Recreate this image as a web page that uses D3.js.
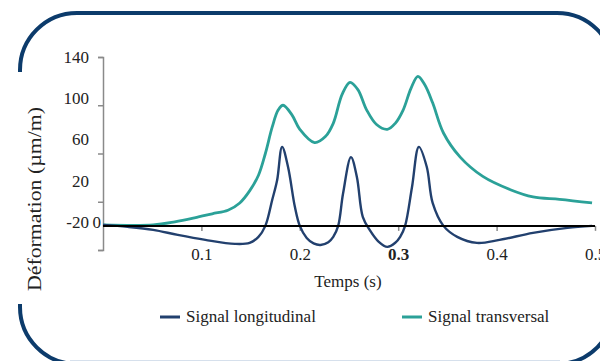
<!DOCTYPE html>
<html lang="fr">
<head>
    <meta charset="UTF-8">
    <title>Déformation - signaux</title>
    <script src="https://d3js.org/d3.v7.min.js"></script>
    <style>
        body { margin: 0; background: #fff; }
        text { font-family: "Liberation Serif", "DejaVu Serif", serif; fill: #222; }
    </style>
</head>
<body>
    <script>
        // temps (s)
        var tLong = [0, 0.025, 0.051, 0.076, 0.104, 0.134, 0.149, 0.158, 0.165, 0.172, 0.177, 0.182, 0.188, 0.195, 0.200,
                     0.207, 0.214, 0.221, 0.229, 0.234, 0.239, 0.244, 0.252, 0.258, 0.264, 0.271, 0.280, 0.289, 0.297, 0.302,
                     0.307, 0.314, 0.321, 0.329, 0.335, 0.346, 0.360, 0.380, 0.403, 0.437, 0.472, 0.497];
        var vLong = [0.8, -0.8, -3.3, -7.5, -11.6, -14.9, -14.1, -9.1, 0, 21.6, 38, 65.5, 49, 15.8, 0,
                     -10, -14.5, -15.8, -13.5, -9.1, 0, 27, 57, 40.6, 7.5, -3.3, -13, -17.4, -14, -9.1,
                     0, 32, 65.5, 49, 19, 0, -9.1, -14.1, -11.6, -5.8, -1.7, 0];

        var tTrans = [0, 0.051, 0.073, 0.093, 0.111, 0.127, 0.139, 0.149, 0.158, 0.165, 0.172, 0.178, 0.183, 0.192, 0.200,
                      0.215, 0.226, 0.234, 0.243, 0.251, 0.259, 0.268, 0.278, 0.289, 0.297, 0.305, 0.313, 0.320,
                      0.327, 0.335, 0.346, 0.363, 0.386, 0.414, 0.437, 0.464, 0.497];
        var vTrans = [0.8, 0.8, 3.3, 6.6, 10, 13, 19, 29, 42, 60, 82, 96, 100, 92, 80,
                      69, 74, 85, 109, 119, 113, 96, 84, 80, 85, 96, 114, 124,
                      117, 102, 77, 57, 41, 30, 24, 22, 19];

        var yTicks = [-20, 20, 60, 100, 140];
        var xTicks = [0.1, 0.2, 0.3, 0.4, 0.5];
        var seriesNames = ["Signal longitudinal", "Signal transversal"];
        var seriesColors = ["#22406e", "#2ba198"];

        var width = 600;
        var height = 361;

        var svg = d3.select("body").append("svg")
            .attr("width", width)
            .attr("height", height)

        // cadre arrondi
        svg.append("rect")
            .attr("x", 20)
            .attr("y", 13)
            .attr("width", 594)
            .attr("height", 351)
            .attr("rx", 57)
            .attr("ry", 57)
            .attr("fill", "none")
            .attr("stroke", "#0c3b6b")
            .attr("stroke-width", 4)

        svg.append("line")
            .attr("x1", 70).attr("x2", 560)
            .attr("y1", 360.5).attr("y2", 360.5)
            .attr("stroke", "#d6e0ec")
            .attr("stroke-width", 1)

        // le graphique colle par-dessus cache le bord gauche
        svg.append("rect")
            .attr("x", 14)
            .attr("y", 72)
            .attr("width", 14)
            .attr("height", 232)
            .attr("fill", "#fff")

        var xScale = d3.scaleLinear().domain([0, 0.5]).range([103, 595])
        var yScale = d3.scaleLinear().domain([-20, 140]).range([250, 57])
        // les libellés de l'axe Y sont décalés dans l'original
        var yLabelPos = d3.scaleLinear().domain([-20, 140]).range([222, 57])

        // axe Y
        var yAxis = svg.append("g")
            .attr("transform", "translate(" + xScale(0) + ",0)")
            .call(d3.axisLeft(yScale).tickValues(yTicks).tickSize(5).tickFormat(""))
        yAxis.select(".domain").attr("stroke", "#8a8a8a").attr("stroke-width", 1.5)
        yAxis.selectAll(".tick line").attr("stroke", "#8a8a8a").attr("stroke-width", 1.5)

        svg.selectAll(".ylab")
            .data(yTicks)
            .join("text")
            .attr("class", "ylab")
            .attr("x", xScale(0) - 14)
            .attr("y", d => yLabelPos(d))
            .attr("dy", "0.35em")
            .attr("text-anchor", "end")
            .attr("font-size", 17)
            .text(d => d)

        svg.append("text")
            .attr("x", xScale(0) - 2)
            .attr("y", yLabelPos(-20))
            .attr("dy", "0.35em")
            .attr("text-anchor", "end")
            .attr("font-size", 17)
            .text("0")

        // axe X
        var xAxis = svg.append("g")
            .attr("transform", "translate(0," + yScale(0) + ")")
            .call(d3.axisBottom(xScale).tickValues(xTicks).tickSize(5).tickPadding(17).tickFormat(d3.format(".1f")))
        xAxis.select(".domain").remove()
        xAxis.selectAll(".tick line").attr("stroke", "#8a8a8a").attr("stroke-width", 1.5)
        xAxis.selectAll(".tick text")
            .attr("font-size", 17)
            .attr("font-family", "Liberation Serif")
            .attr("fill", "#222")
            .attr("font-weight", d => d == 0.3 ? "bold" : "normal")

        svg.append("text")
            .attr("x", 348)
            .attr("y", 287)
            .attr("text-anchor", "middle")
            .attr("font-size", 17)
            .text("Temps (s)")

        svg.append("text")
            .attr("transform", "translate(41,199) rotate(-90)")
            .attr("text-anchor", "middle")
            .attr("font-size", 18)
            .attr("textLength", 184)
            .attr("lengthAdjust", "spacingAndGlyphs")
            .text("Déformation (µm/m)")

        // courbes
        var line = d3.line()
            .x(d => xScale(d[0]))
            .y(d => yScale(d[1]))
            .curve(d3.curveCatmullRom.alpha(0.5))

        svg.append("path")
            .datum(d3.zip(tTrans, vTrans))
            .attr("fill", "none")
            .attr("stroke", seriesColors[1])
            .attr("stroke-width", 2.8)
            .attr("d", line)

        svg.append("path")
            .datum(d3.zip(tLong, vLong))
            .attr("fill", "none")
            .attr("stroke", seriesColors[0])
            .attr("stroke-width", 2.4)
            .attr("d", line)

        // ligne du zéro
        svg.append("line")
            .attr("x1", xScale(0))
            .attr("x2", xScale(0.5))
            .attr("y1", yScale(0))
            .attr("y2", yScale(0))
            .attr("stroke", "#000")
            .attr("stroke-width", 2)

        // légende
        var legend = svg.selectAll(".leg")
            .data(seriesNames)
            .join("g")
            .attr("class", "leg")
            .attr("transform", (d, i) => "translate(" + (160 + i * 242) + ",317)")

        legend.append("line")
            .attr("x1", 0)
            .attr("x2", 20)
            .attr("stroke", (d, i) => seriesColors[i])
            .attr("stroke-width", 3)

        legend.append("text")
            .attr("x", 26)
            .attr("dy", "0.32em")
            .attr("font-size", 17)
            .text(d => d)
    </script>
</body>
</html>
